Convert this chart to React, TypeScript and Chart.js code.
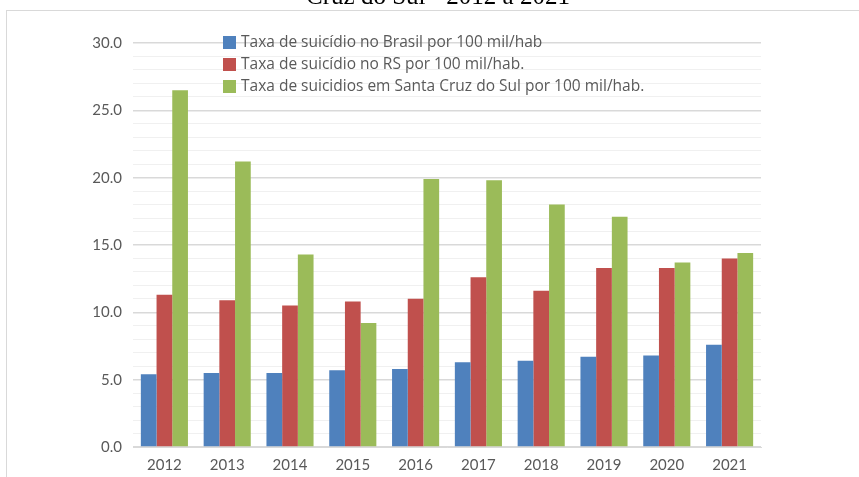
import React, { useEffect, useRef } from 'react';
import { Chart, registerables } from 'chart.js';

Chart.register(...registerables);

const titleText = 'Cruz do Sul - 2012 a 2021';
const years = ['2012', '2013', '2014', '2015', '2016', '2017', '2018', '2019', '2020', '2021'];
const brasil = [5.4, 5.5, 5.5, 5.7, 5.8, 6.3, 6.4, 6.7, 6.8, 7.6];
const rs = [11.3, 10.9, 10.5, 10.8, 11.0, 12.6, 11.6, 13.3, 13.3, 14.0];
const santaCruz = [26.5, 21.2, 14.3, 9.2, 19.9, 19.8, 18.0, 17.1, 13.7, 14.4];
const seriesLabels = [
  'Taxa de suicídio no Brasil por 100 mil/hab',
  'Taxa de suicídio no RS por 100 mil/hab.',
  'Taxa de suicidios em Santa Cruz do Sul por 100 mil/hab.',
];
const seriesColors = ['#4f81bd', '#c0504d', '#9bbb59'];
const yMin = 0;
const yMax = 30;
const yMajorStep = 5;
const yMinorStep = 1;

const textColor = '#595959';
const uiFont = 'Lato, "Open Sans", sans-serif';
const legendFont = '15.5px "Open Sans", Lato, sans-serif';

const decorPlugin = {
  id: 'decor',
  beforeDraw(chart: any) {
    const ctx = chart.ctx;
    ctx.save();
    ctx.fillStyle = '#ffffff';
    ctx.fillRect(0, 0, chart.width, chart.height);
    ctx.strokeStyle = '#d9d9d9';
    ctx.lineWidth = 1;
    ctx.strokeRect(6.5, 10.5, chart.width + 20, chart.height + 20);
    ctx.fillStyle = '#000000';
    ctx.font = '25px "Liberation Serif", "Times New Roman", serif';
    ctx.textAlign = 'center';
    ctx.textBaseline = 'alphabetic';
    ctx.fillText(titleText, 438, 3.5);
    ctx.restore();
  },
  afterDraw(chart: any) {
    const ctx = chart.ctx;
    ctx.save();
    ctx.font = legendFont;
    ctx.textBaseline = 'middle';
    ctx.textAlign = 'left';
    const x0 = 223;
    const y0 = 42;
    const rowH = 22;
    chart.data.datasets.forEach((ds: any, i: number) => {
      const cy = y0 + i * rowH;
      ctx.fillStyle = ds.backgroundColor;
      ctx.fillRect(x0, cy - 6, 13, 13);
      ctx.fillStyle = textColor;
      ctx.fillText(ds.label, x0 + 18, cy + 1);
    });
    ctx.restore();
  },
};

export default function App() {
  const ref = useRef<HTMLCanvasElement | null>(null);
  useEffect(() => {
    if (!ref.current) return;
    const chart = new Chart(ref.current, {
      type: 'bar',
      data: {
        labels: years,
        datasets: [brasil, rs, santaCruz].map((d, i) => ({
          label: seriesLabels[i],
          data: d,
          backgroundColor: seriesColors[i],
          borderWidth: 0,
          categoryPercentage: 0.75,
          barPercentage: 1.0,
        })),
      },
      options: {
        responsive: false,
        animation: false,
        layout: { padding: { left: 0, right: 98, top: 43, bottom: 0 } },
        plugins: {
          legend: { display: false },
          title: { display: false },
          tooltip: { enabled: false },
        },
        scales: {
          x: {
            grid: { display: false, drawTicks: false },
            border: { color: '#d9d9d9' },
            ticks: {
              color: textColor,
              font: { family: uiFont, size: 15 },
              padding: 9,
            },
            afterFit: (s: any) => {
              s.height = 30;
            },
          },
          y: {
            min: yMin,
            max: yMax,
            grid: {
              drawTicks: false,
              color: (c: any) =>
                c.tick && c.tick.value % yMajorStep === 0 ? '#d9d9d9' : '#f0f0f0',
              lineWidth: (c: any) => (c.tick && c.tick.value % yMajorStep === 0 ? 1.5 : 1),
            },
            border: { display: false },
            ticks: {
              stepSize: yMinorStep,
              autoSkip: false,
              color: textColor,
              font: { family: uiFont, size: 15 },
              padding: 11,
              callback: (v: any) => (Number(v) % yMajorStep === 0 ? Number(v).toFixed(1) : ''),
            },
            afterFit: (s: any) => {
              s.width = 133;
            },
          },
        },
      },
      plugins: [decorPlugin],
    });
    return () => chart.destroy();
  }, []);
  return (
    <div style={{ position: 'absolute', left: 0, top: 0, width: 859, height: 477 }}>
      <canvas ref={ref} width={859} height={477} style={{ display: 'block' }} />
    </div>
  );
}
